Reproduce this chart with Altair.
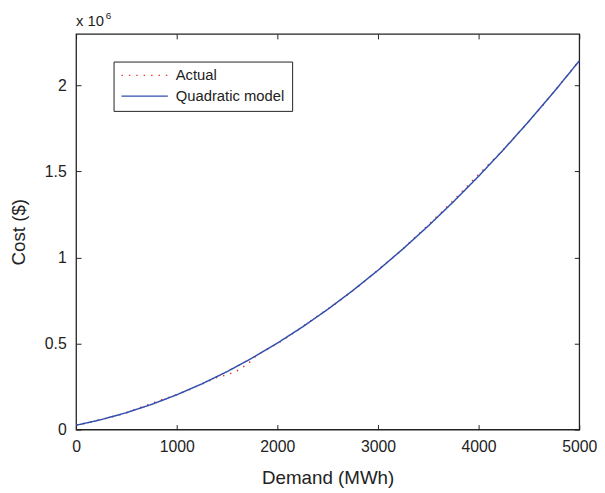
import altair as alt
import pandas as pd

# ---- data ----
demand_actual = [0, 100, 200, 300, 400, 500, 600, 700, 800, 900, 1000, 1100, 1200,
                 1300, 1400, 1500, 1600, 1700, 1800, 1900, 2000, 2200, 2400, 2600,
                 2800, 3000, 3200, 3400, 3600, 3800, 4000, 4200, 4400, 4600, 4800, 5000]
cost_actual = [24000, 37000, 51000, 66000, 80000, 98000, 121000, 141000, 163000,
               183000, 204000, 226000, 253000, 277000, 303000, 318000, 342000,
               378000, 434000, 467000, 500000, 577000, 660000, 740000, 829000,
               928000, 1024000, 1134000, 1246000, 1362000, 1484000, 1599000,
               1727000, 1858000, 2001000, 2145000]

demand_model = [0, 250, 500, 750, 1000, 1250, 1500, 1750, 2000, 2250, 2500, 2750,
                3000, 3250, 3500, 3750, 4000, 4250, 4500, 4750, 5000]
cost_model = [25000, 57700, 98100, 146200, 202000, 265500, 336700, 415700, 502300,
              596600, 698700, 808400, 925900, 1051100, 1183900, 1324500, 1472800,
              1628800, 1792500, 1963900, 2143000]

series_names = ["Actual", "Quadratic model"]
series_colors = ["#ec3b2c", "#2f4fae"]
x_ticks = [0, 1000, 2000, 3000, 4000, 5000]
y_ticks = [0, 500000, 1000000, 1500000, 2000000]
exp_base = ["x 10"]
exp_power = ["6"]

df = pd.concat([
    pd.DataFrame({"demand": demand_actual, "cost": cost_actual, "series": series_names[0]}),
    pd.DataFrame({"demand": demand_model, "cost": cost_model, "series": series_names[1]}),
], ignore_index=True)

FONT = "Liberation Sans"
INK = "#222222"

xscale = alt.Scale(domain=[0, 5000], nice=False, zero=False)
yscale = alt.Scale(domain=[0, 2300000], nice=False)

legend = alt.Legend(
    title=None, orient="none", legendX=38, legendY=28, direction="vertical",
    strokeColor=INK, fillColor="white", padding=7, rowPadding=6, clipHeight=14,
    symbolType="stroke", symbolSize=2209, symbolStrokeWidth=1.4, labelOffset=7,
    labelFont=FONT, labelFontSize=15, labelColor=INK,
)

common_axis = dict(offset=-5, tickSize=5, domain=False, grid=False,
                   tickColor=INK, tickWidth=1)

lines = alt.Chart(df).mark_line(strokeWidth=1.5).encode(
    x=alt.X("demand:Q", scale=xscale,
            axis=alt.Axis(orient="bottom", values=x_ticks, format="d", labelPadding=9,
                          labelFont=FONT, labelFontSize=16, labelColor=INK,
                          labelFlush=False, labelOverlap=False,
                          title="Demand (MWh)", titleFont=FONT, titleFontSize=19,
                          titleFontWeight="normal", titleColor=INK, titlePadding=15,
                          **common_axis)),
    y=alt.Y("cost:Q", scale=yscale,
            axis=alt.Axis(orient="left", values=y_ticks,
                          labelExpr="datum.value / 1000000", labelPadding=10,
                          labelFont=FONT, labelFontSize=16, labelColor=INK,
                          labelFlush=False, labelOverlap=False,
                          title="Cost ($)", titleFont=FONT, titleFontSize=19,
                          titleFontWeight="normal", titleColor=INK, titlePadding=16,
                          **common_axis)),
    color=alt.Color("series:N", scale=alt.Scale(domain=series_names, range=series_colors),
                    legend=legend),
    strokeDash=alt.StrokeDash("series:N",
                              scale=alt.Scale(domain=series_names, range=[[1.5, 6], [1, 0]]),
                              legend=legend),
)

frame = alt.Chart(df).mark_line(opacity=0).encode(
    x=alt.X("demand:Q", scale=xscale,
            axis=alt.Axis(orient="top", values=x_ticks, labels=False, title=None, **common_axis)),
    y=alt.Y("cost:Q", scale=yscale,
            axis=alt.Axis(orient="right", values=y_ticks, labels=False, title=None, **common_axis)),
)

base_txt = alt.Chart(pd.DataFrame({"t": exp_base})).mark_text(
    align="left", baseline="alphabetic", font=FONT, fontSize=15, color=INK
).encode(text="t:N", x=alt.value(0), y=alt.value(-8))

pow_txt = alt.Chart(pd.DataFrame({"t": exp_power})).mark_text(
    align="left", baseline="alphabetic", font=FONT, fontSize=10, color=INK
).encode(text="t:N", x=alt.value(30), y=alt.value(-15))

chart = alt.layer(lines, frame, base_txt, pow_txt).resolve_axis(
    x="independent", y="independent"
).properties(
    width=510, height=401,
    autosize=alt.AutoSizeParams(type="none"),
    padding={"left": 69, "top": 23, "right": 18, "bottom": 60},
    background="white",
).configure_view(stroke=INK, strokeWidth=1.3)

chart.save("out.html", embed_options={"renderer": "svg", "actions": False})
